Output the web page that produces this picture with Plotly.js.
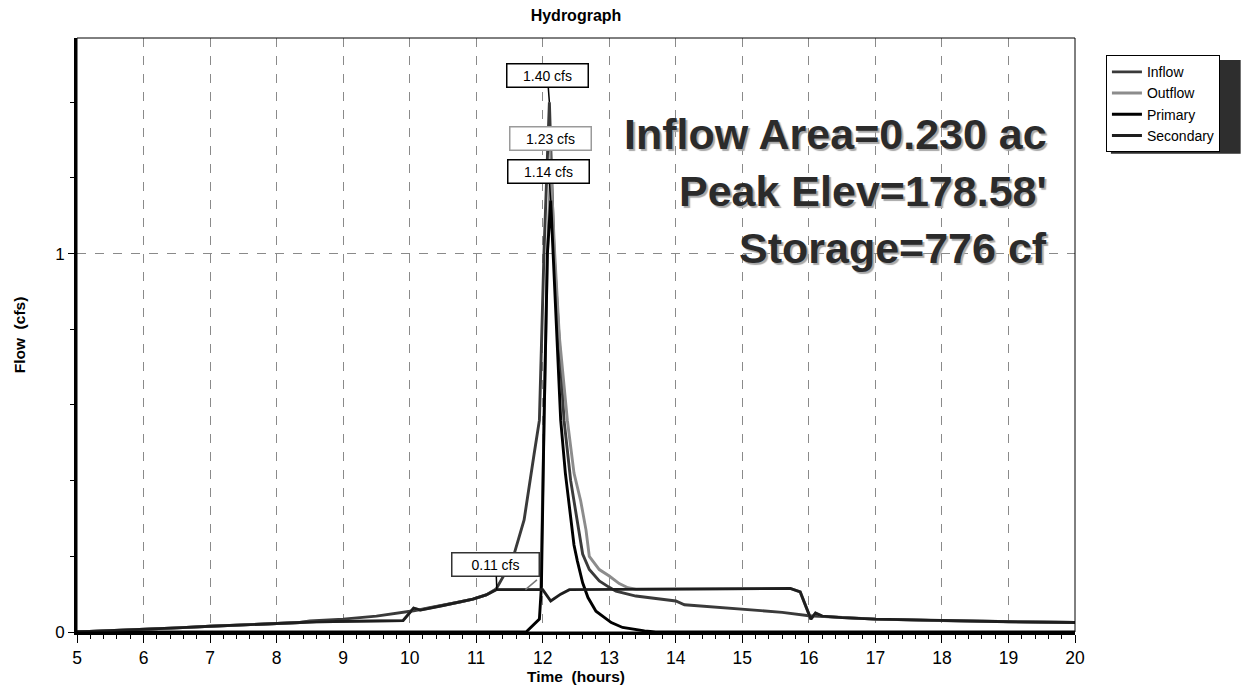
<!DOCTYPE html>
<html><head><meta charset="utf-8">
<script src="https://cdn.plot.ly/plotly-3.0.1.min.js"></script>
<style>html,body{margin:0;padding:0;background:#fff}#chart{width:1243px;height:688px}</style>
</head><body><div id="chart"></div>
<script>
// ---- data (hours, cfs) ----
const inflowT = [5.0,5.5,6.0,6.5,7.0,7.5,8.0,8.35,8.5,9.0,9.5,9.9,10.06,10.3,10.5,10.77,10.95,11.15,11.3,11.45,11.57,11.72,11.87,11.95,12.02,12.10,12.17,12.25,12.32,12.42,12.52,12.60,12.70,12.85,13.0,13.1,13.4,13.73,14.0,14.13,14.5,15.0,15.3,15.6,16.0,16.5,17.0,18.0,19.0,20.0];
const inflowQ = [0.000,0.003,0.008,0.011,0.015,0.018,0.022,0.025,0.029,0.034,0.042,0.051,0.056,0.064,0.070,0.080,0.087,0.098,0.114,0.160,0.206,0.296,0.470,0.560,1.010,1.400,1.000,0.780,0.560,0.400,0.296,0.206,0.165,0.135,0.118,0.108,0.095,0.087,0.082,0.072,0.067,0.061,0.058,0.052,0.043,0.038,0.034,0.030,0.027,0.025];

const outflowT = [5.0,5.5,6.0,6.5,7.0,7.5,8.0,8.35,8.6,9.0,9.5,9.9,10.06,10.16,10.5,10.77,10.95,11.15,11.3,11.97,12.02,12.07,12.12,12.18,12.25,12.37,12.47,12.57,12.65,12.70,12.85,13.0,13.15,13.28,13.4,15.72,15.87,16.03,16.1,16.2,16.5,17.0,18.0,19.0,20.0];
const outflowQ = [0.000,0.003,0.008,0.011,0.015,0.018,0.022,0.025,0.027,0.028,0.029,0.030,0.063,0.058,0.070,0.080,0.087,0.098,0.112,0.112,0.600,1.000,1.230,1.000,0.780,0.560,0.420,0.347,0.270,0.200,0.165,0.148,0.128,0.117,0.113,0.115,0.106,0.034,0.050,0.042,0.038,0.034,0.030,0.027,0.025];

const primaryT = [5.0,11.75,11.95,11.98,12.02,12.07,12.12,12.17,12.22,12.27,12.34,12.42,12.47,12.52,12.60,12.68,12.80,13.03,13.20,13.53,13.70,20.0];
const primaryQ = [0.000,0.000,0.034,0.120,0.560,1.000,1.140,0.950,0.750,0.560,0.420,0.300,0.230,0.188,0.130,0.091,0.055,0.025,0.012,0.003,0.000,0.000];

const secondaryT = [5.0,5.5,6.0,6.5,7.0,7.5,8.0,8.35,8.6,9.0,9.5,9.9,10.06,10.16,10.5,10.77,10.95,11.15,11.3,12.0,12.12,12.27,12.4,15.72,15.87,16.03,16.1,16.2,16.5,17.0,18.0,19.0,20.0];
const secondaryQ = [0.000,0.003,0.008,0.011,0.015,0.018,0.022,0.025,0.027,0.028,0.029,0.030,0.063,0.058,0.070,0.080,0.087,0.098,0.112,0.112,0.082,0.100,0.112,0.115,0.106,0.034,0.050,0.042,0.038,0.034,0.030,0.027,0.025];

const seriesNames = ['Inflow','Outflow','Primary','Secondary'];
const peakLabels = ['1.40 cfs','1.23 cfs','1.14 cfs','0.11 cfs'];
const peakT = [12.10, 12.12, 12.12, 11.31];
const peakQ = [1.40, 1.23, 1.14, 0.112];
const infoLines = ['Inflow Area=0.230 ac', "Peak Elev=178.58'", 'Storage=776 cf'];
const xTickVals = [5,6,7,8,9,10,11,12,13,14,15,16,17,18,19,20];

const FONT = 'Liberation Sans, Arial, Helvetica, sans-serif';
const colors = ['#3a3a3a','#8c8c8c','#000000','#1e1e1e'];
const xs = [inflowT, outflowT, primaryT, secondaryT];
const ys = [inflowQ, outflowQ, primaryQ, secondaryQ];

const traces = seriesNames.map((n,i)=>({
  type:'scatter', mode:'lines', name:n, x:xs[i], y:ys[i],
  line:{color:colors[i], width:2.9}, hoverinfo:'skip'
}));

const labelOffsets = [[-2,-27],[0,-28],[-2,-29],[-1,-25]];
const labelBorders = ['#000','#9a9a9a','#000','#333'];
const annotations = [];
[1,0,2,3].forEach(i=>{
  annotations.push({
    x:peakT[i], y:peakQ[i], xref:'x', yref:'y', text:peakLabels[i],
    showarrow:true, arrowhead:0, arrowwidth:1.5, arrowcolor:i===1?'#888':'#000',
    ax:labelOffsets[i][0], ay:labelOffsets[i][1],
    bgcolor:'#fff', bordercolor:labelBorders[i], borderwidth:1.5, borderpad:3,
    width:i===3?80:74, font:{family:FONT, size:14, color:'#000'}
  });
});
// secondary leader (grey)
annotations.push({x:11.74, y:peakQ[3], xref:'x', yref:'y', text:' ', showarrow:true, arrowhead:0,
  arrowwidth:1.5, arrowcolor:'#777', ax:13, ay:-11, font:{size:1}});

const infoY = [0.838, 0.742, 0.646];
infoLines.forEach((t,i)=>annotations.push({
  xref:'paper', yref:'paper', x:0.974, y:infoY[i], xanchor:'right', yanchor:'middle',
  text:'<b>'+t+'</b>', showarrow:false,
  font:{family:FONT, size:43, color:'#2b2b2b', shadow:'2px 2px 1px #a8a8a8'}
}));

const shapes = [
  {type:'rect', xref:'paper', yref:'paper', x0:0, x1:1, y0:0, y1:1, line:{color:'#000', width:1}, layer:'above'},
  // legend drop shadow, drawn beneath the legend box
  {type:'rect', xref:'paper', yref:'paper', x0:1.036, x1:1.166, y0:0.805, y1:0.963,
    fillcolor:'#2e2e2e', line:{width:0}, layer:'below'}
];

const layout = {
  width:1243, height:688,
  margin:{l:77, r:168, t:38, b:56},
  paper_bgcolor:'#fff', plot_bgcolor:'#fff',
  font:{family:FONT, color:'#000'},
  title:{text:'<b>Hydrograph</b>', font:{family:FONT, size:16, color:'#000'},
    xref:'paper', x:0.5, xanchor:'center', yref:'container', y:0.977, yanchor:'middle'},
  xaxis:{range:[5,20], tickmode:'array', tickvals:xTickVals, ticks:'outside', ticklen:8, tickwidth:1, tickcolor:'#000',
    showline:true, linewidth:3, linecolor:'#000', zeroline:false,
    showgrid:true, gridcolor:'#8a8a8a', griddash:'dash', gridwidth:1,
    minor:{dtick:0.2, tick0:5, ticks:'outside', ticklen:4, tickwidth:1, tickcolor:'#000', showgrid:false},
    tickfont:{family:FONT, size:17.5, color:'#000'},
    title:{text:'<b>Time  (hours)</b>', font:{family:FONT, size:15.5, color:'#000'}, standoff:2}},
  yaxis:{range:[0,1.57], tickmode:'linear', tick0:0, dtick:1, ticks:'outside', ticklen:6, tickwidth:1, tickcolor:'#000',
    showline:true, linewidth:3, linecolor:'#000', zeroline:false,
    showgrid:true, gridcolor:'#8a8a8a', griddash:'dash', gridwidth:1,
    minor:{dtick:0.2, tick0:0, ticks:'outside', ticklen:4, tickwidth:1, tickcolor:'#000', showgrid:false},
    tickfont:{family:FONT, size:17, color:'#000'},
    title:{text:'<b>Flow  (cfs)</b>', font:{family:FONT, size:15.5, color:'#000'}, standoff:26}},
  legend:{x:1.031, xanchor:'left', y:0.971, yanchor:'top', bgcolor:'#fff', bordercolor:'#000', borderwidth:1,
    font:{family:FONT, size:14, color:'#000'}, tracegroupgap:0, itemwidth:30},
  shapes:shapes,
  annotations:annotations,
  showlegend:true
};
Plotly.newPlot('chart', traces, layout, {staticPlot:true, displayModeBar:false});
</script></body></html>
